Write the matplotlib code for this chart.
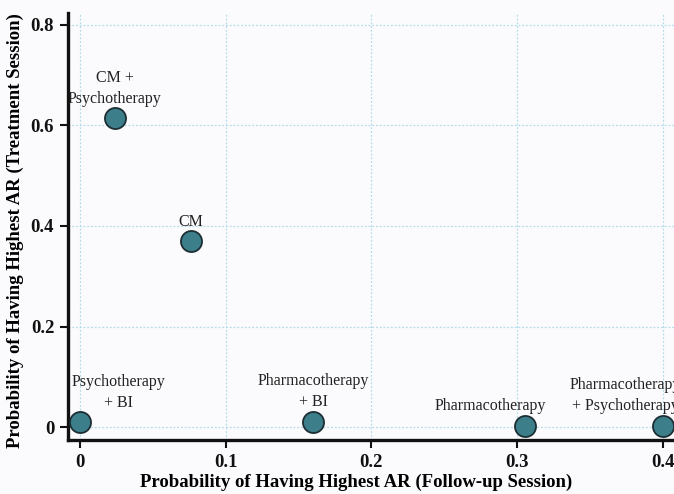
import matplotlib
matplotlib.use("Agg")
import matplotlib.pyplot as plt

# Probability of having the highest abstinence rate per treatment arm
labels = [
    "CM +\nPsychotherapy",
    "CM",
    "Psychotherapy\n+ BI",
    "Pharmacotherapy\n+ BI",
    "Pharmacotherapy",
    "Pharmacotherapy\n+ Psychotherapy",
]
followup = [0.024, 0.076, 0.000, 0.160, 0.305, 0.400]
treatment = [0.615, 0.370, 0.010, 0.010, 0.002, 0.002]
# label offsets (points) from each marker
offsets = [(0, 8), (0, 8), (28, 8), (0, 9), (-25, 9), (-27, 9)]

x_ticks = [0, 0.1, 0.2, 0.3, 0.4]
x_tick_labels = ["0", "0.1", "0.2", "0.3", "0.4"]
y_ticks = [0, 0.2, 0.4, 0.6, 0.8]
y_tick_labels = ["0", "0.2", "0.4", "0.6", "0.8"]

plt.rcParams["font.family"] = ["Liberation Serif", "DejaVu Serif"]

fig = plt.figure(figsize=(6.74, 4.94), dpi=100, facecolor="#fbfbfd")
ax = fig.add_axes([0.101, 0.109, 0.899, 0.865], facecolor="#fbfbfd")

ax.grid(True, color="#b3dcea", linestyle=(0, (1.5, 1.5)), linewidth=0.9)
ax.set_axisbelow(True)

ax.scatter(followup, treatment, s=230, color="#3c7f8b", edgecolor="#1c2e33",
           linewidth=1.3, zorder=3, clip_on=False)

for lab, x, y, (dx, dy) in zip(labels, followup, treatment, offsets):
    ax.annotate(lab, (x, y), xytext=(dx, dy), textcoords="offset points",
                ha="center", va="bottom", fontsize=11.5, color="#222222",
                linespacing=1.4, annotation_clip=False)

ax.set_xlim(-0.008, 0.4075)
ax.set_ylim(-0.026, 0.824)
ax.set_xticks(x_ticks)
ax.set_xticklabels(x_tick_labels)
ax.set_yticks(y_ticks)
ax.set_yticklabels(y_tick_labels)

for side in ("top", "right"):
    ax.spines[side].set_visible(False)
for side in ("left", "bottom"):
    ax.spines[side].set_linewidth(2.4)
    ax.spines[side].set_color("#111111")

ax.tick_params(axis="both", direction="out", length=6, width=1.5,
               labelsize=13.5, pad=4, colors="#111111")
for t in ax.get_xticklabels() + ax.get_yticklabels():
    t.set_fontweight("bold")

ax.set_xlabel("Probability of Having Highest AR (Follow-up Session)",
              fontsize=13.5, fontweight="bold")
ax.set_ylabel("Probability of Having Highest AR (Treatment Session)",
              fontsize=13.5, fontweight="bold")
ax.xaxis.set_label_coords(0.475, -0.078)
ax.yaxis.set_label_coords(-0.073, 0.49)

fig.savefig("out.png", dpi=100, facecolor=fig.get_facecolor())
